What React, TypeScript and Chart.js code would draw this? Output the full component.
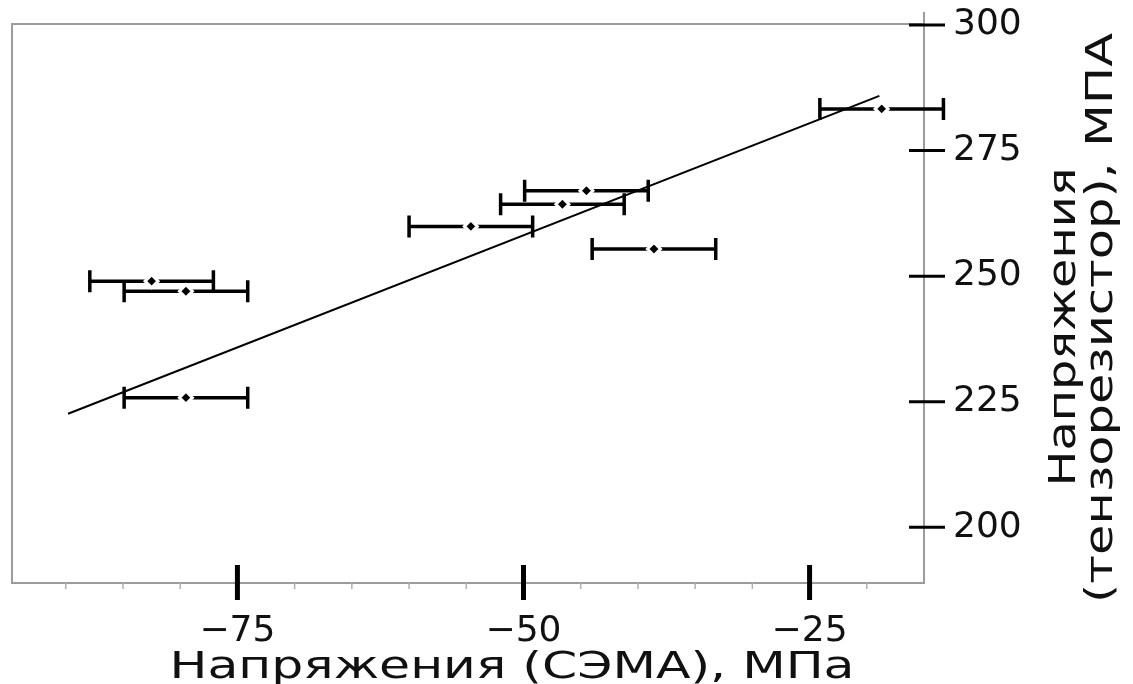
import { useEffect, useRef } from 'react';
import { Chart, registerables } from 'chart.js';

Chart.register(...registerables);

// Measured points: СЭМА stress (x) vs strain-gauge stress (y)
const pointX = [-18.7, -44.5, -46.6, -54.6, -38.6, -82.5, -79.5, -79.5];
const pointY = [283.3, 267.0, 264.3, 259.9, 255.4, 249.0, 247.0, 225.8];
const pointXErr = [5.4, 5.4, 5.4, 5.4, 5.4, 5.4, 5.4, 5.4];

// Regression line end points
const fitX = [-89.8, -18.9];
const fitY = [222.6, 285.9];

// Axes
const xMin = -94.7;
const xMax = -15.0;
const yMin = 188.9;
const yMax = 300.2;
const xTickValues = [-75, -50, -25];
const xMinorTickValues = [-90, -85, -80, -70, -65, -60, -55, -45, -40, -35, -30, -20];
const yTickValues = [200, 225, 250, 275, 300];

const xTitle = 'Напряжения (СЭМА), МПа';
const yTitleLines = ['Напряжения', '(тензорезистор), МПА'];

const FONT = '"DejaVu Sans", "Liberation Sans", sans-serif';

function drawStretched(
  ctx: CanvasRenderingContext2D,
  text: string,
  cx: number,
  cy: number,
  targetW: number,
  size: number,
  rotate: boolean
) {
  ctx.save();
  ctx.font = `${size}px ${FONT}`;
  const w = ctx.measureText(text).width;
  const sx = targetW / w;
  ctx.translate(cx, cy);
  if (rotate) ctx.rotate(-Math.PI / 2);
  ctx.scale(sx, 1);
  ctx.fillStyle = '#111';
  ctx.textAlign = 'center';
  ctx.textBaseline = 'alphabetic';
  ctx.fillText(text, 0, 0);
  ctx.restore();
}

const decorPlugin = {
  id: 'decor',
  beforeDatasetsDraw(chart: any) {
    const { ctx, chartArea: a, scales } = chart;
    const xs = scales.x;
    const ys = scales.y;
    ctx.save();
    // frame
    ctx.strokeStyle = '#9c9c9c';
    ctx.lineWidth = 2;
    ctx.strokeRect(a.left, a.top, a.right - a.left, a.bottom - a.top);
    ctx.beginPath();
    ctx.moveTo(a.right, a.top - 12);
    ctx.lineTo(a.right, a.top);
    ctx.stroke();

    // minor x ticks
    ctx.strokeStyle = '#b0b0b0';
    ctx.lineWidth = 1.5;
    xMinorTickValues.forEach((v) => {
      const px = xs.getPixelForValue(v);
      ctx.beginPath();
      ctx.moveTo(px, a.bottom);
      ctx.lineTo(px, a.bottom + 6);
      ctx.stroke();
    });

    // major x ticks
    ctx.strokeStyle = '#000';
    ctx.lineWidth = 5;
    xTickValues.forEach((v) => {
      const px = xs.getPixelForValue(v);
      ctx.beginPath();
      ctx.moveTo(px, a.bottom - 18);
      ctx.lineTo(px, a.bottom + 17);
      ctx.stroke();
    });

    // y ticks crossing right frame
    ctx.lineWidth = 3;
    yTickValues.forEach((v) => {
      const py = ys.getPixelForValue(v);
      ctx.beginPath();
      ctx.moveTo(a.right - 15, py);
      ctx.lineTo(a.right + 21, py);
      ctx.stroke();
    });

    // error bars
    ctx.lineWidth = 3.5;
    ctx.strokeStyle = '#000';
    const cap = 11;
    pointX.forEach((x, i) => {
      const py = ys.getPixelForValue(pointY[i]);
      const x1 = xs.getPixelForValue(x - pointXErr[i]);
      const x2 = xs.getPixelForValue(x + pointXErr[i]);
      ctx.beginPath();
      ctx.moveTo(x1, py);
      ctx.lineTo(x2, py);
      ctx.moveTo(x1, py - cap);
      ctx.lineTo(x1, py + cap);
      ctx.moveTo(x2, py - cap);
      ctx.lineTo(x2, py + cap);
      ctx.stroke();
    });
    ctx.restore();
  },
  afterDraw(chart: any) {
    const { ctx } = chart;
    drawStretched(ctx, xTitle, 512, 678, 685, 38, false);
    drawStretched(ctx, yTitleLines[0], 1075, 327, 319, 37, true);
    drawStretched(ctx, yTitleLines[1], 1112, 318, 570, 37, true);
  },
};

export default function App() {
  const canvasRef = useRef<HTMLCanvasElement | null>(null);

  useEffect(() => {
    const canvas = canvasRef.current;
    if (!canvas) return;
    const chart = new Chart(canvas, {
      type: 'scatter',
      data: {
        datasets: [
          {
            label: 'points',
            data: pointX.map((x, i) => ({ x, y: pointY[i] })),
            pointStyle: 'rectRot',
            pointRadius: 6.5,
            pointBackgroundColor: '#000',
            pointBorderColor: '#fff',
            pointBorderWidth: 3,
            showLine: false,
            order: 0,
          },
          {
            type: 'line',
            label: 'fit',
            data: fitX.map((x, i) => ({ x, y: fitY[i] })),
            borderColor: '#000',
            borderWidth: 2,
            pointRadius: 0,
            fill: false,
            order: 1,
          } as any,
        ],
      },
      options: {
        responsive: false,
        animation: false,
        events: [],
        layout: { padding: { left: 12, top: 24, right: 0, bottom: 0 } },
        plugins: {
          legend: { display: false },
          tooltip: { enabled: false },
          title: { display: false },
        },
        scales: {
          x: {
            type: 'linear',
            position: 'bottom',
            min: xMin,
            max: xMax,
            grid: { display: false, drawTicks: false },
            border: { display: false },
            afterBuildTicks: (scale: any) => {
              scale.ticks = xTickValues.map((v) => ({ value: v }));
            },
            afterFit: (scale: any) => {
              scale.height = 101;
              scale.paddingLeft = 0;
              scale.paddingRight = 0;
            },
            ticks: {
              autoSkip: false,
              maxRotation: 0,
              padding: 27,
              color: '#111',
              font: { family: FONT, size: 36 },
              callback: (v: any) => String(v).replace('-', '\u2212'),
            },
          },
          y: {
            type: 'linear',
            position: 'right',
            min: yMin,
            max: yMax,
            grid: { display: false, drawTicks: false },
            border: { display: false },
            afterBuildTicks: (scale: any) => {
              scale.ticks = yTickValues.map((v) => ({ value: v }));
            },
            afterFit: (scale: any) => {
              scale.width = 209;
              scale.paddingTop = 0;
              scale.paddingBottom = 0;
            },
            ticks: {
              autoSkip: false,
              padding: 29,
              color: '#111',
              font: { family: FONT, size: 36 },
            },
          },
        },
      },
      plugins: [decorPlugin],
    });
    return () => chart.destroy();
  }, []);

  return (
    <div style={{ position: 'fixed', left: 0, top: 0, width: 1133, height: 684, background: '#fff' }}>
      <canvas ref={canvasRef} width={1133} height={684} style={{ display: 'block' }} />
    </div>
  );
}
